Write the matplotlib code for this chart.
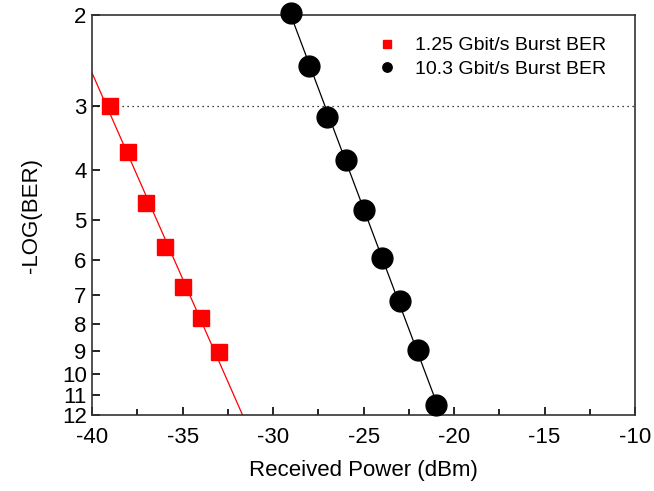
import numpy as np
import matplotlib
matplotlib.use("Agg")
import matplotlib.pyplot as plt
from matplotlib.ticker import FixedLocator, NullLocator, MultipleLocator

plt.rcParams['font.family'] = ['Liberation Sans', 'DejaVu Sans']
plt.rcParams['axes.unicode_minus'] = False

# data
power_125 = [-39, -38, -37, -36, -35, -34, -33]
ber_125 = [3.0, 3.70, 4.65, 5.66, 6.75, 7.76, 9.04]
power_103 = [-29, -28, -27, -26, -25, -24, -23, -22, -21]
ber_103 = [1.98, 2.51, 3.15, 3.83, 4.78, 5.93, 7.19, 8.96, 11.5]
y_ticks = [2, 3, 4, 5, 6, 7, 8, 9, 10, 11, 12]

fig = plt.figure(figsize=(6.54, 4.91), dpi=100)
ax = fig.add_axes([0.141, 0.155, 0.830, 0.814])

# linear fits in log space
xx = np.linspace(-41, -10, 300)
for px, py, c in [(power_125, ber_125, 'red'), (power_103, ber_103, 'black')]:
    k, b = np.polyfit(px, np.log10(py), 1)
    ax.plot(xx, 10 ** (k * xx + b), color=c, lw=0.9, zorder=2)

ax.axhline(3, color='black', ls=(0, (1, 3)), lw=0.9, zorder=1)

ax.plot(power_125, ber_125, 's', color='red', ms=12, ls='none',
        label='1.25 Gbit/s Burst BER', zorder=3, clip_on=False)
ax.plot(power_103, ber_103, 'o', color='black', ms=15, ls='none',
        label='10.3 Gbit/s Burst BER', zorder=3, clip_on=False)

ax.set_yscale('log')
ax.set_ylim(12, 2)
ax.set_xlim(-40, -10)
ax.yaxis.set_major_locator(FixedLocator(y_ticks))
ax.yaxis.set_minor_locator(NullLocator())
ax.set_yticklabels([str(t) for t in y_ticks])
ax.xaxis.set_major_locator(MultipleLocator(5))
ax.xaxis.set_minor_locator(MultipleLocator(2.5))

ax.tick_params(axis='both', which='both', direction='in', labelsize=16)
ax.tick_params(axis='x', which='major', length=6, width=1.2, pad=9)
ax.tick_params(axis='x', which='minor', length=4, width=1.2)
ax.tick_params(axis='y', which='major', length=6, width=1.2, pad=4)
for s in ax.spines.values():
    s.set_linewidth(1.2)
    s.set_color('#333333')

ax.set_xlabel('Received Power (dBm)', fontsize=16, labelpad=8)
ax.set_ylabel('-LOG(BER)', fontsize=16, labelpad=14)

ax.legend(loc='upper right', frameon=False, fontsize=14, markerscale=0.45,
          handletextpad=0.7, handlelength=1.5, borderaxespad=0.2,
          bbox_to_anchor=(0.968, 0.975), labelspacing=0.3)

fig.savefig('out.png', dpi=100)
